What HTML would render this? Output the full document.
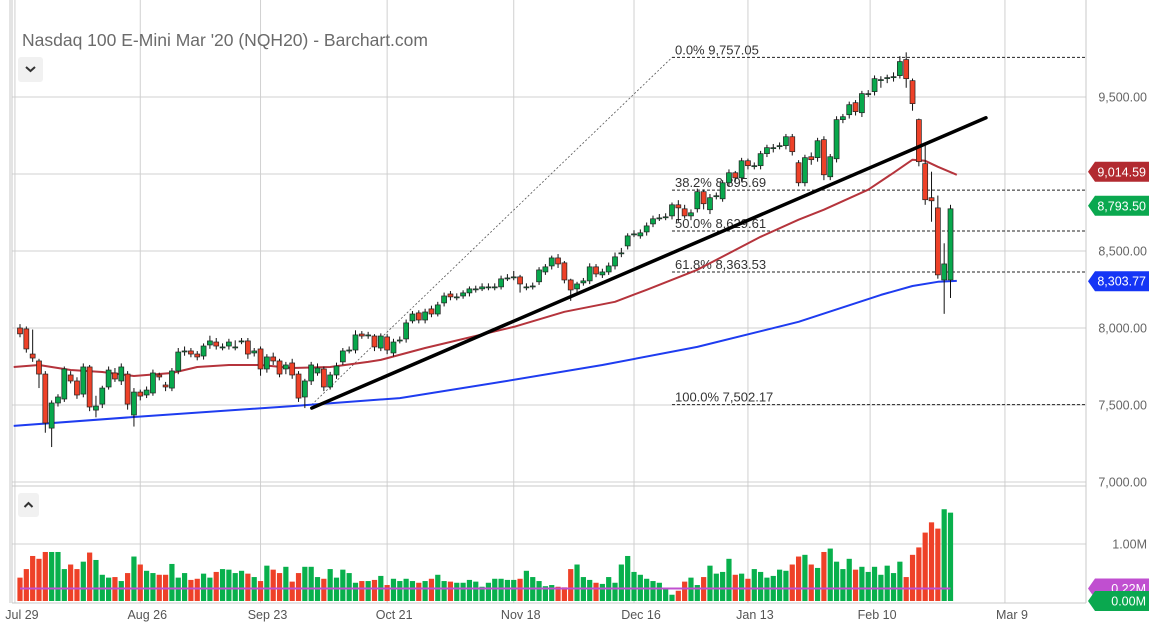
<!DOCTYPE html>
<html><head><meta charset="utf-8"><style>
html,body{margin:0;padding:0;background:#fff;}
svg{display:block;font-family:"Liberation Sans",sans-serif;}
</style></head><body>
<svg id="chart" width="1156" height="623" viewBox="0 0 1156 623" xmlns="http://www.w3.org/2000/svg">
<rect x="0" y="0" width="1156" height="623" fill="#fff"/>
<g id="grid"></g>
<g id="fib"></g>
<g id="mas"></g>
<g id="candles"></g>
<g id="trend"></g>
<g id="vol"></g>
<g id="axes"></g>
<text x="22" y="46" font-size="17.5" fill="#6b6b6b">Nasdaq 100 E-Mini Mar '20 (NQH20) - Barchart.com</text>
<g><rect x="18" y="57" width="25" height="25" rx="3" fill="#f1f1f1"/><path d="M26 67 L30.5 71 L35 67" stroke="#333" stroke-width="2" fill="none"/></g>
<g><rect x="18" y="493" width="21" height="24" rx="3" fill="#f1f1f1"/><path d="M24.5 507 L28.5 503 L32.5 507" stroke="#333" stroke-width="2" fill="none"/></g>
</svg>
<script>
const O=[8000,7994,7831,7786,7701,7350,7513,7539,7695,7656,
7571,7747,7467,7506,7617,7708,7656,7701,7435,7584,
7565,7578,7695,7630,7610,7721,7845,7851,7831,7818,
7890,7909,7877,7883,7877,7916,7916,7838,7864,7734,
7812,7786,7734,7773,7701,7552,7656,7708,7734,7617,
7695,7780,7857,7857,7961,7955,7948,7870,7942,7838,
7922,7929,8046,8098,8052,8124,8091,8163,8221,8202,
8208,8228,8254,8254,8267,8267,8267,8325,8332,8332,
8267,8273,8300,8364,8403,8455,8423,8312,8254,8293,
8306,8397,8345,8364,8403,8488,8533,8611,8598,8624,
8676,8715,8722,8728,8800,8774,8728,8774,8885,8768,
8859,8839,8943,9008,8975,9086,9054,9054,9132,9171,
9184,9184,9242,9073,8943,9112,9106,9223,8982,9099,
9353,9385,9463,9398,9522,9535,9613,9626,9632,9639,
9743,9606,9353,9067,8846,8780,8312,8312];
const H=[8025,8010,7990,7800,7720,7530,7570,7750,7720,7680,
7770,7760,7560,7625,7750,7740,7770,7720,7610,7600,
7620,7730,7710,7650,7740,7870,7880,7870,7850,7900,
7950,7935,7900,7930,7920,7935,7935,7870,7880,7830,
7840,7800,7780,7800,7720,7670,7780,7770,7750,7715,
7775,7870,7880,7985,7980,7975,7960,7965,7960,7930,
7945,8055,8110,8115,8125,8145,8170,8230,8240,8225,
8245,8270,8275,8290,8290,8290,8340,8350,8370,8345,
8290,8295,8395,8415,8470,8480,8435,8320,8300,8325,
8420,8415,8385,8425,8490,8520,8615,8635,8640,8685,
8730,8740,8745,8815,8830,8800,8770,8905,8900,8870,
8880,8960,9030,9020,9105,9100,9075,9150,9190,9195,
9205,9260,9260,9090,9125,9140,9235,9245,9130,9375,
9390,9470,9480,9540,9545,9640,9635,9645,9660,9765,
9790,9620,9360,9190,9015,8860,8550,8800];
const L=[7940,7840,7780,7610,7320,7227,7490,7520,7640,7540,
7550,7460,7420,7480,7600,7650,7630,7470,7360,7530,
7545,7560,7660,7590,7590,7700,7820,7810,7790,7795,
7865,7860,7855,7860,7855,7895,7800,7815,7690,7710,
7760,7680,7700,7670,7520,7480,7630,7690,7590,7600,
7670,7760,7835,7835,7930,7930,7850,7850,7830,7815,
7900,7905,8030,8030,8030,8070,8075,8140,8180,8180,
8190,8205,8230,8240,8245,8245,8250,8305,8310,8230,
8245,8250,8280,8345,8380,8390,8290,8176,8230,8275,
8285,8330,8325,8345,8380,8460,8510,8590,8580,8600,
8655,8695,8700,8705,8690,8710,8700,8750,8770,8740,
8835,8820,8920,8950,8950,9030,9030,9030,9110,9140,
9160,9160,9120,8920,8920,9060,9080,8960,8960,9075,
9330,9360,9380,9370,9500,9510,9560,9590,9600,9620,
9560,9411,9050,8800,8690,8320,8092,8195];
const C=[7962,7864,7805,7701,7383,7513,7552,7734,7656,7565,
7747,7487,7493,7610,7727,7669,7747,7506,7584,7558,
7597,7708,7682,7617,7721,7844,7851,7831,7812,7883,
7916,7883,7877,7909,7877,7916,7831,7851,7734,7812,
7786,7701,7760,7695,7545,7656,7760,7740,7617,7695,
7753,7851,7857,7955,7948,7955,7877,7948,7857,7909,
7922,8033,8091,8052,8104,8091,8150,8208,8202,8202,
8228,8254,8254,8267,8267,8267,8319,8325,8332,8286,
8267,8273,8377,8397,8455,8416,8312,8247,8286,8306,
8397,8351,8364,8403,8462,8488,8598,8611,8618,8663,
8709,8715,8722,8800,8780,8728,8748,8885,8807,8846,
8859,8943,9008,8975,9086,9054,9054,9132,9171,9171,
9184,9242,9145,8943,9106,9093,9216,8995,9112,9353,
9372,9450,9405,9522,9522,9619,9613,9626,9632,9730,
9619,9457,9080,8833,8826,8345,8416,8774];
const V=[.41,.56,.79,.74,.86,.86,.86,.56,.64,.56,
.69,.85,.72,.46,.41,.42,.35,.49,.78,.64,
.53,.49,.46,.46,.65,.41,.49,.37,.39,.48,
.41,.51,.56,.55,.49,.53,.48,.42,.35,.62,
.55,.49,.60,.34,.49,.60,.60,.42,.39,.56,
.41,.55,.49,.32,.35,.35,.37,.44,.28,.39,
.35,.39,.35,.32,.35,.39,.46,.35,.34,.32,
.32,.37,.34,.25,.32,.39,.39,.37,.37,.39,
.53,.42,.35,.26,.28,.25,
.24,.56,.64,.42,.37,.32,.30,.42,.32,.64,
.79,.51,.46,.39,.35,.32,.21,.11,.18,.34,
.41,.28,.42,.62,.48,.51,.74,.46,.48,.39,
.56,.51,.41,.44,.55,.53,.64,.78,.81,.64,
.58,.86,.92,.69,.56,.74,.55,.60,.51,.60,
.46,.62,.49,.69,.42,.81,.94,1.2,1.38,1.27,
1.61,1.55];
const volAvg=0.22;
const ma50Idx=[-1,3,8,13,18,24,28,33,38,43,49,55,57,64,78,86,94,99,107,117,123,127,134,138,141,143,145,148];
const ma50Val=[7747,7760,7727,7714,7688,7708,7747,7760,7760,7740,7747,7780,7793,7870,8007,8105,8170,8248,8378,8592,8703,8768,8898,9008,9093,9086,9047,8995];
const ma200Idx=[-1,18,43,60,76,92,107,123,136,141,145,148];
const ma200Val=[7364,7422,7493,7545,7650,7760,7877,8040,8215,8273,8300,8306];
const trendIdx=[46.1,152.6];
const trendVal=[7480,9365];
const fibStartIdx=46.1, fibEndIdx=103;
const fibLevels=[9757.05,8895.69,8629.61,8363.53,7502.17];
const fibLabels=["0.0% 9,757.05","38.2% 8,895.69","50.0% 8,629.61","61.8% 8,363.53","100.0% 7,502.17"];
const priceTicks=[9500,9000,8500,8000,7500,7000];
const priceTickLabels=["9,500.00","","8,500.00","8,000.00","7,500.00","7,000.00"];
const dateTickIdx=[-0.8,19,38,58,78,97,115,134.3,155.6];
const dateTickLabels=["Jul 29","Aug 26","Sep 23","Oct 21","Nov 18","Dec 16","Jan 13","Feb 10","Mar 9"];
const lastPrice=8793.50, ma50Last=9014.59, ma200Last=8303.77;

const NS="http://www.w3.org/2000/svg";
const xi=i=>20+i*6.33;
const yp=p=>405-(p-7500)*0.154;
const yv=v=>601-v*57;
function mk(parent,tag,attrs){const e=document.createElementNS(NS,tag);for(const k in attrs)e.setAttribute(k,attrs[k]);document.getElementById(parent).appendChild(e);return e;}

// grid
priceTicks.forEach((p,k)=>{const e=mk('grid','line',{x1:12,x2:1086,y1:yp(p),y2:yp(p),stroke:'#d0d0d0','stroke-width':1});

});
dateTickIdx.forEach(i=>{const e=mk('grid','line',{x1:xi(i),x2:xi(i),y1:0,y2:603,stroke:'#d0d0d0','stroke-width':1});

});
[[yv(1),'#d0d0d0']].forEach(a=>{const e=mk('grid','line',{x1:12,x2:1086,y1:a[0],y2:a[0],stroke:a[1]});

});
[[12,0,12,603],[1086,0,1086,603],[12,486,1086,486],[12,603,1086,603],[10,0,10,603]].forEach(a=>{const e=mk('axes','line',{x1:a[0],y1:a[1],x2:a[2],y2:a[3],stroke:'#c8c8c8'});

});

// price axis labels
priceTicks.forEach((p,k)=>{if(!priceTickLabels[k])return;const t=mk('axes','text',{x:1147,y:yp(p)+4.5,'text-anchor':'end','font-size':12.5,fill:'#666'});t.textContent=priceTickLabels[k];

});
{const t=mk('axes','text',{x:1147,y:yv(1)+4.5,'text-anchor':'end','font-size':12.5,fill:'#666'});t.textContent='1.00M';

}
dateTickIdx.forEach((i,k)=>{const t=mk('axes','text',{x:xi(i)+7,y:619,'text-anchor':'middle','font-size':12.5,fill:'#555'});t.textContent=dateTickLabels[k];

});

// fib
{const e=mk('fib','line',{x1:xi(fibStartIdx),y1:yp(fibLevels[4]),x2:xi(fibEndIdx),y2:yp(fibLevels[0]),stroke:'#555','stroke-width':0.8,'stroke-dasharray':'2,2'});

}
fibLevels.forEach((p,k)=>{const e=mk('fib','line',{x1:xi(fibEndIdx),x2:1086,y1:yp(p),y2:yp(p),stroke:'#222','stroke-width':1,'stroke-dasharray':'3,2'});


const t=mk('fib','text',{x:xi(fibEndIdx)+3,y:yp(p)-3,'font-size':13,fill:'#333'});t.textContent=fibLabels[k];

});

// moving averages
function poly(idx,val,color,name){const d=idx.map((i,k)=>(k?'L':'M')+xi(i).toFixed(1)+' '+yp(val[k]).toFixed(1)).join(' ');
const e=mk('mas','path',{d:d,stroke:color,'stroke-width':2,fill:'none','stroke-linejoin':'round'});

}
poly(ma50Idx,ma50Val,'#b5343c','ma-50-line');
poly(ma200Idx,ma200Val,'#1e3cf0','ma-200-line');

// candles
for(let i=0;i<O.length;i++){const x=xi(i);const up=C[i]>=O[i];
const w=mk('candles','line',{x1:x,x2:x,y1:yp(H[i]),y2:yp(L[i]),stroke:'#111','stroke-width':1});


const top=yp(Math.max(O[i],C[i])),bot=yp(Math.min(O[i],C[i]));
const b=mk('candles','rect',{x:x-2.5,y:top,width:5,height:Math.max(1,bot-top),fill:up?'#08a84c':'#ee4128',stroke:'#222','stroke-width':0.7});

}

// trend line
{const e=mk('trend','line',{x1:xi(trendIdx[0]),y1:yp(trendVal[0]),x2:xi(trendIdx[1]),y2:yp(trendVal[1]),stroke:'#000','stroke-width':3.5,'stroke-linecap':'round'});

}

// volume
for(let i=0;i<V.length;i++){const up=C[i]>=O[i];
const b=mk('vol','rect',{x:xi(i)-2.6,y:yv(V[i]),width:5.2,height:601-yv(V[i]),fill:up?'#08b04c':'#ee4128'});

}
{const e=mk('vol','line',{x1:xi(0),x2:xi(V.length-1),y1:yv(volAvg),y2:yv(volAvg),stroke:'#c050d0','stroke-width':2});

}

// flags
function flag(val,y,color,name){const g=mk('axes','g',{});


const p=document.createElementNS(NS,'polygon');p.setAttribute('points',`1088,${y} 1095,${y-10} 1149,${y-10} 1149,${y+10} 1095,${y+10}`);p.setAttribute('fill',color);g.appendChild(p);
const t=document.createElementNS(NS,'text');t.setAttribute('x',1146);t.setAttribute('y',y+4.5);t.setAttribute('text-anchor','end');t.setAttribute('font-size',12.5);t.setAttribute('fill','#fff');t.textContent=val;g.appendChild(t);}
flag(ma50Last.toLocaleString('en-US',{minimumFractionDigits:2}),yp(ma50Last),'#b22a30','ma-50-price-flag');
flag(lastPrice.toLocaleString('en-US',{minimumFractionDigits:2}),yp(lastPrice),'#0aa84f','last-price-flag');
flag(ma200Last.toLocaleString('en-US',{minimumFractionDigits:2}),yp(ma200Last),'#1535f5','ma-200-price-flag');
flag(volAvg.toFixed(2)+'M',yv(volAvg),'#c04fd0','volume-average-flag');
flag('0.00M',yv(0),'#0aa84f','volume-last-flag');
</script>
</body></html>
